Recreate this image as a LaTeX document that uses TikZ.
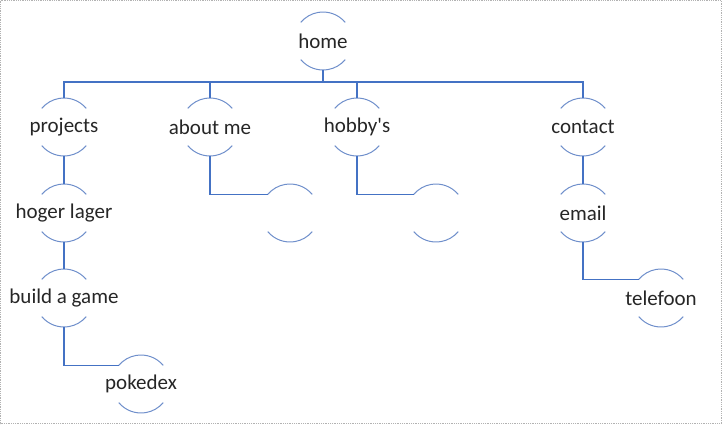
\documentclass[tikz,border=0pt]{standalone}
\usepackage{fontspec}
\setmainfont{Carlito}
\definecolor{wordblue}{HTML}{4472C4}
\definecolor{arcblue}{HTML}{6F8FCB}
\definecolor{txt}{HTML}{262626}
\begin{document}
\begin{tikzpicture}[x=1pt, y=-1pt, outer sep = 0pt]

\tikzstyle{bubble}=[circle, minimum size=58pt, inner sep=0pt]
\tikzstyle{caption}=[text=txt, font=\fontsize{21}{24}\selectfont, inner sep=0pt]
\tikzstyle{link}=[draw=wordblue, line width=1.1pt]
\tikzstyle{rim}=[draw=arcblue, line width=1pt]

\useasboundingbox (0,0) rectangle (722,424);
\draw[gray!60, densely dotted, line width=0.8pt] (0.5,0.5) rectangle (721.5,423.5);

\node[bubble, label={[caption]center:home}] (home) at (323,41) {};
\node[bubble, label={[caption]center:projects}] (projects) at (64,127) {}; \node[bubble, label={[caption]center:about me}] (aboutme) at (210,127) {}; \node[bubble, label={[caption]center:hobby\textquotesingle s}] (hobbys) at (357,127) {}; \node[bubble, label={[caption]center:contact}] (contact) at (583,127) {};
\node[bubble, label={[caption]center:hoger lager}] (hogerlager) at (64,213) {}; \node[bubble] (blank1) at (290,213) {}; \node[bubble] (blank2) at (436,213) {}; \node[bubble, label={[caption]center:email}] (email) at (583,213) {};
\node[bubble, label={[caption]center:build a game}] (buildgame) at (64,298) {}; \node[bubble, label={[caption]center:telefoon}] (telefoon) at (661,298) {};
\node[bubble, label={[caption]center:pokedex}] (pokedex) at (141,384) {};

% top and bottom arcs of every bubble
\foreach \n in {home,projects,aboutme,hobbys,contact,hogerlager,blank1,blank2,email,buildgame,telefoon,pokedex}
{
  \draw[rim] (\n.40) arc (-40:-140:29);
  \draw[rim] (\n.220) arc (140:40:29);
}

% connectors
\foreach \c in {projects,aboutme,hobbys,contact}
  \draw[link] (home.south) -- ++(0,12) -| (\c.north);
\draw[link] (projects) -- (hogerlager);
\draw[link] (hogerlager) -- (buildgame);
\draw[link] (buildgame.south) |- (pokedex.140);
\draw[link] (aboutme.south) |- (blank1.140);
\draw[link] (hobbys.south) |- (blank2.140);
\draw[link] (contact) -- (email);
\draw[link] (email.south) |- (telefoon.140);

\end{tikzpicture}
\end{document}
